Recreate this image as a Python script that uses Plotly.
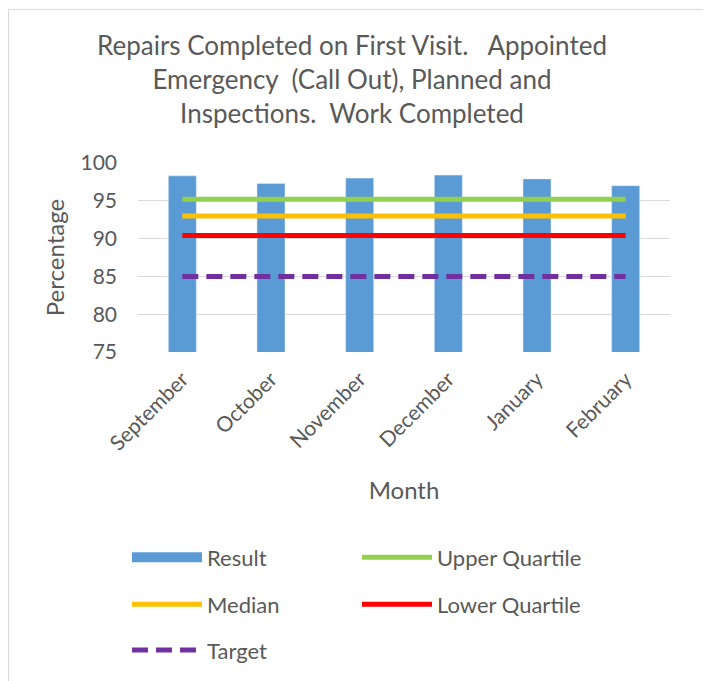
import plotly.graph_objects as go

months = ["September", "October", "November", "December", "January", "February"]
result = [98.3, 97.3, 98.0, 98.4, 97.9, 97.0]
upper_quartile = [95.2, 95.2, 95.2, 95.2, 95.2, 95.2]
median = [93.0, 93.0, 93.0, 93.0, 93.0, 93.0]
lower_quartile = [90.4, 90.4, 90.4, 90.4, 90.4, 90.4]
target = [85, 85, 85, 85, 85, 85]

FONT = "Lato"
GREY = "#595959"
BLUE = "#5B9BD5"

W, H = 711, 681
OFF = 8  # page body margin: figure is drawn 8px in from the window corner
# plot area in window pixels: left 138, right 670, top 162.5, bottom 352
L = 138 - OFF
T = 162.5 - OFF
R = W - (670 - OFF)
B = H - (352 - OFF)
PW, PH = W - L - R, H - T - B


def px_x(p):  # window pixel -> paper x
    return (p - OFF - L) / PW


def px_y(p):  # window pixel -> paper y
    return (H - B - (p - OFF)) / PH


fig = go.Figure()
fig.add_trace(go.Bar(x=months, y=result, name="Result", marker_color=BLUE,
                     width=0.316, showlegend=False, legendgroup="result"))
# legend proxy for the bar series (wide block like Excel's legend key)
fig.add_trace(go.Scatter(x=[None], y=[None], name="Result", mode="lines",
                         line=dict(color=BLUE, width=14), legendgroup="result",
                         legend="legend"))
fig.add_trace(go.Scatter(x=months, y=upper_quartile, name="Upper Quartile", mode="lines",
                         line=dict(color="#92D050", width=5), legend="legend"))
fig.add_trace(go.Scatter(x=months, y=median, name="Median", mode="lines",
                         line=dict(color="#FFC000", width=5), legend="legend2"))
fig.add_trace(go.Scatter(x=months, y=lower_quartile, name="Lower Quartile", mode="lines",
                         line=dict(color="#FF0000", width=5), legend="legend2"))
fig.add_trace(go.Scatter(x=months, y=target, name="Target", mode="lines",
                         line=dict(color="#7030A0", width=5, dash="16px,8px"),
                         legend="legend3"))

leg_common = dict(orientation="h", xanchor="left", yanchor="middle", itemwidth=70,
                  entrywidth=145, font=dict(family=FONT, size=22, color=GREY),
                  bgcolor="rgba(0,0,0,0)")

fig.update_layout(
    width=W, height=H,
    margin=dict(l=L, r=R, t=T, b=B, autoexpand=False),
    paper_bgcolor="white", plot_bgcolor="white",
    font=dict(family=FONT, color=GREY),
    title=dict(
        text="Repairs Completed on First Visit.\u00a0\u00a0 Appointed<br>"
             "Emergency \u00a0(Call Out), Planned and<br>"
             "Inspections.\u00a0 Work Completed",
        x=(352 - OFF) / W, xref="container", xanchor="center",
        y=1 - 47 / H, yref="container", yanchor="top",
        font=dict(family=FONT, size=26, color=GREY),
    ),
    xaxis=dict(type="category", tickangle=-45, tickfont=dict(size=21, color=GREY),
               showgrid=False, showline=False, ticks="", automargin=False,
               ticklabelstandoff=10,
               title=dict(text="Month", font=dict(size=24, color=GREY), standoff=28)),
    yaxis=dict(range=[75, 100], dtick=5, tickfont=dict(size=21, color=GREY),
               showgrid=True, gridcolor="#D9D9D9", gridwidth=1, zeroline=False,
               showline=False, ticks="", ticklen=0, ticklabelstandoff=20, automargin=False,
               title=dict(text="Percentage", font=dict(size=24, color=GREY), standoff=9)),
    legend=dict(leg_common, x=px_x(127), y=px_y(558)),
    legend2=dict(leg_common, x=px_x(127), y=px_y(605)),
    legend3=dict(leg_common, x=px_x(127), y=px_y(651)),
    shapes=[dict(type="rect", xref="paper", yref="paper",
                 x0=px_x(8.5), x1=px_x(706), y0=px_y(720), y1=px_y(8.5),
                 line=dict(color="#D9D9D9", width=1), layer="below")],
)

fig.write_html("out.html")
